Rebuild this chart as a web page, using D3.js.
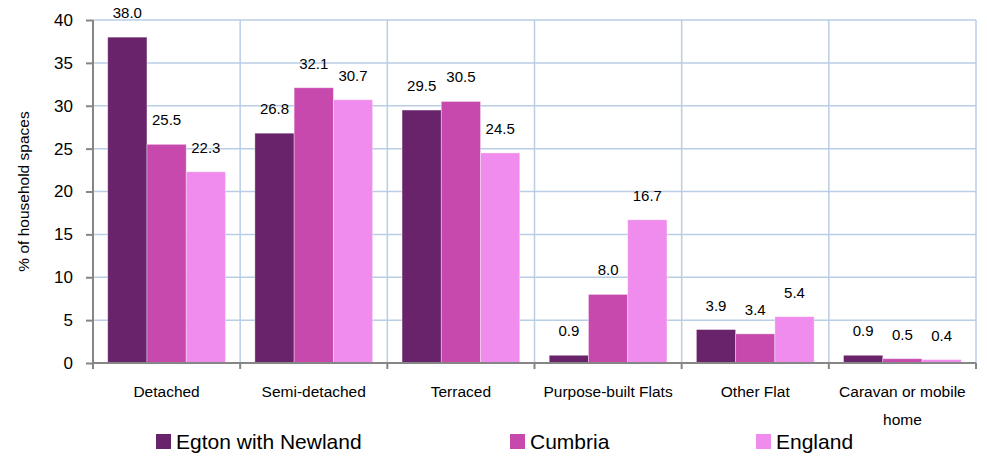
<!DOCTYPE html>
<html>
<head>
<meta charset="utf-8">
<script src="https://cdn.jsdelivr.net/npm/d3@7/dist/d3.min.js"></script>
<style>
  html, body { margin: 0; padding: 0; background: #ffffff; }
  svg { display: block; font-family: "Liberation Sans", Arial, sans-serif; }
</style>
</head>
<body>
<svg id="chart" width="987" height="456"></svg>
<script>
const categories = ["Detached", "Semi-detached", "Terraced", "Purpose-built Flats", "Other Flat", "Caravan or mobile home"];
const seriesNames = ["Egton with Newland", "Cumbria", "England"];
const egton   = [38.0, 26.8, 29.5, 0.9, 3.9, 0.9];
const cumbria = [25.5, 32.1, 30.5, 8.0, 3.4, 0.5];
const england = [22.3, 30.7, 24.5, 16.7, 5.4, 0.4];
const yTicks = [0, 5, 10, 15, 20, 25, 30, 35, 40];
const colors = ["#68236b", "#c849ad", "#f08cee"];

(function () {
const seriesValues = [egton, cumbria, england];
const svg = d3.select("#chart");
const mLeft = 93, mRight = 976, mTop = 20, mBottom = 363;

const x0 = d3.scaleBand().domain(categories).range([mLeft, mRight]).paddingInner(0).paddingOuter(0);
const bw = x0.bandwidth();
const x1 = d3.scaleBand().domain(seriesNames).range([bw * 0.1, bw * 0.9]).padding(0);
const y = d3.scaleLinear().domain([0, 40]).range([mBottom, mTop]);

const gridColor = "#b9cde5";
const axisColor = "#868686";

// horizontal gridlines
svg.append("g").selectAll("line").data(yTicks.filter(d => d > 0)).join("line")
  .attr("x1", mLeft).attr("x2", mRight)
  .attr("y1", d => y(d)).attr("y2", d => y(d))
  .attr("stroke", gridColor).attr("stroke-width", 1.5);

// vertical gridlines at category boundaries
const boundaries = categories.map(c => x0(c) + bw);
svg.append("g").selectAll("line").data(boundaries).join("line")
  .attr("x1", d => d).attr("x2", d => d)
  .attr("y1", mTop).attr("y2", mBottom)
  .attr("stroke", gridColor).attr("stroke-width", 1.5);

// bars
const groups = svg.append("g").selectAll("g").data(categories).join("g")
  .attr("transform", c => `translate(${x0(c)},0)`);

groups.each(function(c, i) {
  const g = d3.select(this);
  const rows = seriesNames.map((s, k) => ({ s, k, v: seriesValues[k][i] }));
  g.selectAll("rect").data(rows).join("rect")
    .attr("x", d => x1(d.s))
    .attr("y", d => y(d.v))
    .attr("width", x1.bandwidth())
    .attr("height", d => y(0) - y(d.v))
    .attr("fill", d => colors[d.k])
    .attr("stroke", "rgba(255,255,255,0.45)")
    .attr("stroke-width", 0.8);
  g.selectAll("text").data(rows).join("text")
    .attr("x", d => x1(d.s) + x1.bandwidth() / 2)
    .attr("y", d => y(d.v) - 19)
    .attr("text-anchor", "middle")
    .attr("font-size", 15)
    .attr("fill", "#000")
    .text(d => d.v.toFixed(1));
});

// y axis
const yAxis = svg.append("g")
  .attr("transform", `translate(${mLeft},0)`)
  .call(d3.axisLeft(y).tickValues(yTicks).tickSize(7).tickPadding(13).tickFormat(d3.format("d")));
yAxis.select(".domain").attr("stroke", axisColor).attr("stroke-width", 2).attr("d", `M0,${mTop}V${mBottom}`);
yAxis.selectAll(".tick line").attr("stroke", axisColor).attr("stroke-width", 2);
yAxis.selectAll(".tick text").attr("font-size", 17).attr("fill", "#000")
  .attr("font-family", "Liberation Sans, Arial, sans-serif");

// x axis
const xAxis = svg.append("g")
  .attr("transform", `translate(0,${mBottom})`)
  .call(d3.axisBottom(x0).tickSize(0).tickFormat(""));
xAxis.select(".domain").attr("stroke", axisColor).attr("stroke-width", 2).attr("d", `M${mLeft},0H${mRight}`);
xAxis.selectAll(".tick").remove();
xAxis.selectAll("line.bt").data([mLeft].concat(boundaries)).join("line")
  .attr("class", "bt")
  .attr("x1", d => d).attr("x2", d => d)
  .attr("y1", 0).attr("y2", 6)
  .attr("stroke", axisColor).attr("stroke-width", 2);

// category labels (wrapped)
const wrapLines = { "Caravan or mobile home": ["Caravan or mobile", "home"] };
categories.forEach(c => {
  const lines = wrapLines[c] || [c];
  const t = svg.append("text")
    .attr("x", x0(c) + bw / 2)
    .attr("y", 397)
    .attr("text-anchor", "middle")
    .attr("font-size", 15.5)
    .attr("fill", "#000");
  lines.forEach((ln, j) => {
    t.append("tspan").attr("x", x0(c) + bw / 2).attr("dy", j === 0 ? 0 : 28).text(ln);
  });
});

// y axis title
svg.append("text")
  .attr("transform", `translate(29,${(mTop + mBottom) / 2}) rotate(-90)`)
  .attr("text-anchor", "middle")
  .attr("font-size", 15.5)
  .attr("fill", "#000")
  .text("% of household spaces");

// legend
const legendX = [156, 510, 756];
const legend = svg.append("g").selectAll("g").data(seriesNames).join("g")
  .attr("transform", (d, i) => `translate(${legendX[i]},434)`);
legend.append("rect").attr("width", 15).attr("height", 15).attr("fill", (d, i) => colors[i]);
legend.append("text").attr("x", 20).attr("y", 14.5)
  .attr("font-size", 21).attr("fill", "#000").text(d => d);
})();
</script>
</body>
</html>
